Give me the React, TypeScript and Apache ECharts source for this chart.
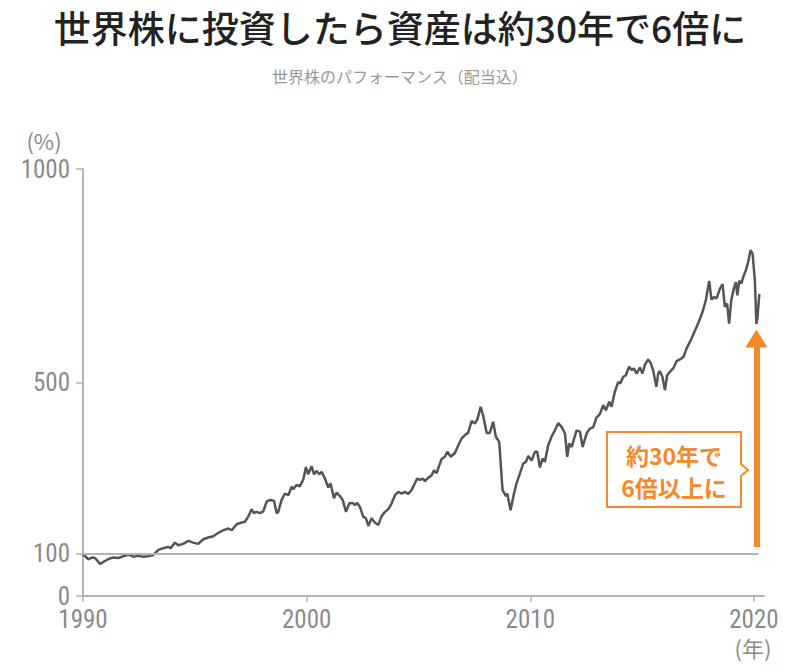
import React, { useEffect, useRef } from "react";
import * as echarts from "echarts";

const titleText = "世界株に投資したら資産は約30年で6倍に";
const subtitleText = "世界株のパフォーマンス（配当込）";
const yUnit = "(%)";
const xUnit = "(年)";
const noteLines = ["約30年で", "6倍以上に"];

const xTicks = [1990, 2000, 2010, 2020];
const yTicks = [0, 100, 500, 1000];
const baseline = 100;
const arrowYear = 2020.11;
const arrowFrom = 115;
const arrowTo = 603;

const years = [
  1990.0, 1990.24, 1990.39, 1990.54, 1990.76, 1990.98, 1991.2, 1991.35, 1991.58, 1991.8,
  1992.03, 1992.25, 1992.47, 1992.7, 1992.92, 1993.14, 1993.37, 1993.59, 1993.81, 1993.92,
  1994.11, 1994.26, 1994.48, 1994.71, 1994.93, 1995.15, 1995.38, 1995.6, 1995.83, 1996.05,
  1996.27, 1996.5, 1996.65, 1996.87, 1997.09, 1997.24, 1997.39, 1997.54, 1997.64, 1997.76,
  1997.91, 1998.06, 1998.21, 1998.36, 1998.54, 1998.66, 1998.73, 1998.88, 1999.03, 1999.18,
  1999.33, 1999.4, 1999.55, 1999.7, 1999.85, 1999.97, 2000.07, 2000.22, 2000.33, 2000.45,
  2000.56, 2000.67, 2000.82, 2000.97, 2001.07, 2001.22, 2001.34, 2001.49, 2001.61, 2001.76,
  2001.91, 2002.06, 2002.16, 2002.26, 2002.38, 2002.53, 2002.65, 2002.76, 2002.9, 2003.05,
  2003.2, 2003.35, 2003.5, 2003.65, 2003.8, 2003.95, 2004.1, 2004.25, 2004.4, 2004.54,
  2004.69, 2004.84, 2004.94, 2005.06, 2005.19, 2005.29, 2005.44, 2005.59, 2005.69, 2005.81,
  2005.93, 2006.03, 2006.18, 2006.29, 2006.44, 2006.63, 2006.78, 2006.93, 2007.08, 2007.22,
  2007.38, 2007.52, 2007.63, 2007.78, 2007.9, 2008.05, 2008.19, 2008.34, 2008.46, 2008.61,
  2008.76, 2008.91, 2008.97, 2009.12, 2009.27, 2009.39, 2009.54, 2009.68, 2009.8, 2009.91,
  2010.06, 2010.21, 2010.31, 2010.43, 2010.55, 2010.65, 2010.8, 2010.95, 2011.1, 2011.25,
  2011.4, 2011.55, 2011.65, 2011.74, 2011.85, 2012.07, 2012.22, 2012.34, 2012.52, 2012.66,
  2012.81, 2012.96, 2013.11, 2013.26, 2013.38, 2013.53, 2013.63, 2013.78, 2013.93, 2014.03,
  2014.15, 2014.27, 2014.42, 2014.53, 2014.63, 2014.75, 2014.9, 2015.02, 2015.12, 2015.27,
  2015.38, 2015.49, 2015.64, 2015.72, 2015.79, 2015.91, 2016.02, 2016.12, 2016.24, 2016.39,
  2016.54, 2016.69, 2016.85, 2016.99, 2017.21, 2017.4, 2017.55, 2017.7, 2017.85, 2018.0,
  2018.1, 2018.21, 2018.33, 2018.48, 2018.6, 2018.7, 2018.8, 2018.89, 2018.99, 2019.1,
  2019.19, 2019.26, 2019.34, 2019.44, 2019.52, 2019.64, 2019.74, 2019.85, 2019.94, 2020.04,
  2020.11, 2020.16, 2020.24,
];

const values = [
  98, 86, 90, 89, 75, 82, 88, 90, 89, 93,
  97, 92, 94, 92, 93, 96, 108, 112, 115, 112,
  125, 119, 122, 129, 125, 122, 133, 137, 140, 148,
  154, 158, 154, 168, 172, 174, 186, 203, 194, 197,
  194, 198, 221, 225, 223, 194, 197, 225, 240, 236,
  256, 250, 260, 257, 273, 302, 285, 304, 285, 293,
  285, 291, 275, 254, 264, 229, 242, 234, 225, 197,
  217, 218, 213, 218, 209, 186, 182, 164, 182, 172,
  166, 187, 197, 203, 217, 236, 244, 240, 244, 239,
  248, 264, 275, 272, 275, 269, 277, 283, 294, 288,
  306, 320, 326, 338, 326, 335, 353, 369, 377, 382,
  410, 404, 413, 443, 421, 382, 382, 408, 373, 361,
  248, 234, 240, 201, 240, 265, 287, 310, 314, 328,
  317, 338, 338, 301, 322, 314, 353, 373, 388, 405,
  396, 381, 326, 357, 349, 388, 385, 349, 381, 392,
  395, 418, 426, 447, 435, 455, 443, 478, 501, 498,
  513, 517, 537, 529, 533, 521, 535, 521, 541, 554,
  546, 529, 490, 521, 527, 513, 482, 517, 525, 533,
  550, 554, 560, 580, 603, 626, 644, 665, 693, 738,
  694, 700, 697, 720, 730, 677, 685, 638, 694, 720,
  735, 704, 738, 732, 747, 763, 782, 810, 802, 739,
  637, 653, 707,
];

const ORANGE = "#f5892a";
const AXIS_GRAY = "#b4b4b4";
const LABEL_GRAY = "#8a8a8a";
const NUM_FONT = "'Liberation Sans Narrow', 'Roboto Condensed', 'Noto Sans', sans-serif";
const JP_FONT = "'Noto Sans CJK JP', 'Noto Sans', sans-serif";

export default function App() {
  const ref = useRef<HTMLDivElement>(null);

  useEffect(() => {
    if (!ref.current) return;
    const chart = echarts.init(ref.current, null, { renderer: "svg" });
    const data = years.map((y, i) => [y, values[i]]);

    const boxL = 607, boxR = 741, boxT = 432, boxB = 507, notchY = 470;

    chart.setOption({
      animation: false,
      grid: { left: 83, right: 36, top: 169, bottom: 75 },
      xAxis: {
        type: "value",
        min: 1990,
        max: 2020.45,
        axisLine: { show: true, lineStyle: { color: AXIS_GRAY, width: 2 } },
        axisTick: { show: true, customValues: xTicks, length: 6, lineStyle: { color: AXIS_GRAY, width: 1.5 } },
        axisLabel: {
          customValues: xTicks,
          formatter: (v: number) => String(v),
          color: LABEL_GRAY,
          fontSize: 25,
          lineHeight: 22,
          fontFamily: NUM_FONT,
          margin: 12,
        },
        splitLine: { show: false },
      },
      yAxis: {
        type: "value",
        min: 0,
        max: 1000,
        axisLine: { show: true, lineStyle: { color: AXIS_GRAY, width: 2 } },
        axisTick: { show: true, customValues: yTicks, length: 7, lineStyle: { color: AXIS_GRAY, width: 1.5 } },
        axisLabel: {
          customValues: yTicks,
          formatter: (v: number) => String(v),
          color: LABEL_GRAY,
          fontSize: 25,
          lineHeight: 22,
          fontFamily: NUM_FONT,
          margin: 13,
        },
        splitLine: { show: false },
      },
      series: [
        {
          type: "line",
          data,
          showSymbol: false,
          symbol: "none",
          lineStyle: { color: "#555555", width: 2.5 },
          z: 3,
          markLine: {
            silent: true,
            symbol: "none",
            label: { show: false },
            data: [
              [
                { coord: [1990, baseline], lineStyle: { color: AXIS_GRAY, width: 2, type: "solid" } },
                { coord: [2020.2, baseline] },
              ],
              [
                { coord: [arrowYear, arrowFrom], symbol: "none", lineStyle: { color: ORANGE, width: 6, type: "solid" } },
                { coord: [arrowYear, arrowTo], symbol: "triangle", symbolSize: [22, 18] },
              ],
            ],
          },
        },
      ],
      graphic: [
        {
          type: "text",
          left: "center",
          top: 8,
          style: {
            text: titleText,
            font: `500 37px ${JP_FONT}`,
            fill: "#222222",
          },
        },
        {
          type: "text",
          left: "center",
          top: 68,
          style: {
            text: subtitleText,
            font: `16px ${JP_FONT}`,
            fill: "#999999",
          },
        },
        {
          type: "text",
          x: 44,
          y: 140,
          style: {
            text: yUnit,
            font: `22px ${JP_FONT}`,
            fill: LABEL_GRAY,
            align: "center",
            verticalAlign: "middle",
          },
        },
        {
          type: "text",
          x: 753,
          y: 647,
          style: {
            text: xUnit,
            font: `22px ${JP_FONT}`,
            fill: LABEL_GRAY,
            align: "center",
            verticalAlign: "middle",
          },
        },
        {
          type: "polygon",
          shape: {
            points: [
              [boxL, boxT],
              [boxR, boxT],
              [boxR, notchY - 6],
              [boxR + 7, notchY],
              [boxR, notchY + 6],
              [boxR, boxB],
              [boxL, boxB],
            ],
          },
          style: { fill: "#ffffff", stroke: ORANGE, lineWidth: 2 },
          z: 10,
        },
        {
          type: "text",
          x: (boxL + boxR) / 2,
          y: 455,
          z: 11,
          style: {
            text: noteLines[0],
            font: `bold 23px ${JP_FONT}`,
            fill: ORANGE,
            align: "center",
            verticalAlign: "middle",
          },
        },
        {
          type: "text",
          x: (boxL + boxR) / 2,
          y: 487,
          z: 11,
          style: {
            text: noteLines[1],
            font: `bold 23px ${JP_FONT}`,
            fill: ORANGE,
            align: "center",
            verticalAlign: "middle",
          },
        },
      ],
    });

    return () => chart.dispose();
  }, []);

  return (
    <div
      ref={ref}
      style={{ position: "fixed", left: 0, top: 0, width: 800, height: 671, background: "#ffffff" }}
    />
  );
}
